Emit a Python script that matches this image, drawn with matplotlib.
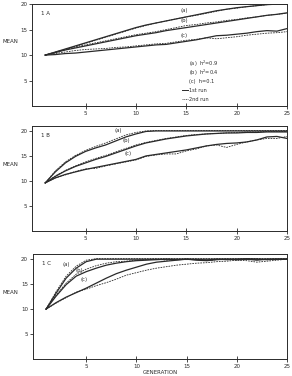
import matplotlib.pyplot as plt

generations = list(range(1, 26))

# panel 1A: (a), (b), (c) for 1st run (solid) and 2nd run (dashed)
a_run1 = [10, 10.6, 11.2, 11.8, 12.4, 13.0, 13.6, 14.2, 14.8, 15.4, 15.9, 16.3, 16.7,
          17.1, 17.5, 17.9, 18.3, 18.7, 19.0, 19.3, 19.5, 19.7, 19.9, 20.0, 20.0]
a_run2 = [10, 10.5, 11.1, 11.7, 12.3, 12.9, 13.5, 14.1, 14.7, 15.3, 15.8, 16.3, 16.7,
          17.1, 17.5, 17.8, 18.2, 18.6, 19.0, 19.2, 19.5, 19.7, 19.9, 20.0, 20.0]
b_run1 = [10, 10.5, 11.0, 11.4, 11.8, 12.2, 12.6, 13.0, 13.4, 13.8, 14.1, 14.4, 14.8,
          15.1, 15.4, 15.7, 16.0, 16.3, 16.6, 16.9, 17.2, 17.5, 17.8, 18.0, 18.3]
b_run2 = [10, 10.6, 11.1, 11.6, 12.0, 12.4, 12.8, 13.2, 13.6, 14.0, 14.3, 14.6, 15.0,
          15.4, 15.8, 16.0, 16.3, 16.5, 16.8, 17.0, 17.3, 17.5, 17.8, 18.0, 18.2]
c_run1 = [10, 10.1, 10.3, 10.4, 10.6, 10.8, 11.0, 11.2, 11.4, 11.6, 11.8, 12.0, 12.1,
          12.4, 12.7, 13.0, 13.4, 13.8, 13.9, 14.1, 14.3, 14.6, 14.8, 14.7, 15.2]
c_run2 = [10, 10.3, 10.6, 10.9, 11.1, 11.2, 11.3, 11.5, 11.6, 11.8, 12.0, 12.2, 12.3,
          12.6, 12.9, 13.1, 13.4, 13.2, 13.4, 13.6, 13.9, 14.1, 14.3, 14.4, 14.6]

# panel 1B
a_run1_b = [9.6, 11.8, 13.6, 14.9, 15.9, 16.6, 17.2, 18.0, 18.8, 19.4, 19.9, 20, 20,
            20, 20, 20, 20, 20, 20, 20, 20, 20, 20, 20, 20]
a_run2_b = [9.6, 12.0, 13.8, 15.1, 16.1, 16.9, 17.6, 18.4, 19.2, 19.7, 20.0, 20.1, 20.1,
            20.1, 20.1, 20.1, 20.1, 20.1, 20.1, 20.1, 20.1, 20.1, 20.1, 20.1, 20.1]
b_run1_b = [9.6, 10.9, 12.0, 12.9, 13.6, 14.3, 14.9, 15.6, 16.3, 17.0, 17.6, 18.0, 18.4,
            18.7, 19.0, 19.2, 19.4, 19.5, 19.6, 19.6, 19.7, 19.7, 19.8, 19.8, 19.8]
b_run2_b = [9.6, 11.0, 12.1, 13.0, 13.8, 14.5, 15.1, 15.8, 16.5, 17.2, 17.7, 18.1, 18.5,
            18.8, 19.1, 19.3, 19.4, 19.5, 19.6, 19.7, 19.8, 19.8, 19.9, 19.9, 19.9]
c_run1_b = [9.6, 10.6, 11.3, 11.8, 12.3, 12.7, 13.1, 13.5, 13.9, 14.3, 15.0, 15.3, 15.6,
            15.9, 16.2, 16.6, 17.0, 17.3, 17.5, 17.6, 17.8, 18.2, 18.8, 18.9, 18.5]
c_run2_b = [9.6, 10.6, 11.2, 11.9, 12.4, 12.5, 13.0, 13.4, 13.8, 14.2, 14.9, 15.2, 15.4,
            15.4, 16.0, 16.4, 17.0, 17.2, 16.7, 17.3, 17.8, 18.2, 18.5, 18.5, 18.9]

# panel 1C
a_run1_c = [10, 13.2, 16.2, 18.2, 19.5, 20, 20, 20, 20, 20, 20, 20, 20,
            20, 20, 20, 20, 20, 20, 20, 20, 20, 20, 20, 20]
a_run2_c = [10, 13.5, 16.6, 18.6, 19.8, 20.1, 20.1, 20.1, 20.1, 20.1, 20.1, 20.1, 20.1,
            20.1, 20.1, 20.1, 20.1, 20.1, 20.1, 20.1, 20.1, 20.1, 20.1, 20.1, 20.1]
b_run1_c = [10, 12.6, 14.9, 16.6, 17.5, 18.2, 18.8, 19.2, 19.5, 19.7, 19.8, 19.9, 20.0,
            19.9, 20.0, 19.9, 19.8, 20.0, 19.9, 20.0, 20.1, 20.0, 19.9, 20.0, 20.0]
b_run2_c = [10, 12.8, 15.2, 17.0, 18.0, 18.7, 19.2, 19.5, 19.6, 19.8, 19.9, 20.0, 19.8,
            20.0, 19.9, 20.0, 19.7, 19.9, 20.0, 19.8, 20.0, 20.1, 19.9, 20.0, 20.0]
c_run1_c = [10, 11.3, 12.4, 13.3, 14.2, 15.2, 16.2, 17.1, 17.8, 18.4, 19.0, 19.4, 19.6,
            19.8, 20.0, 19.8, 19.7, 19.9, 20.0, 19.9, 20.0, 19.8, 20.0, 20.0, 20.0]
c_run2_c = [10, 11.2, 12.3, 13.4, 14.0, 14.7, 15.3, 16.0, 16.8, 17.3, 17.8, 18.2, 18.5,
            18.8, 19.0, 19.2, 19.3, 19.5, 19.6, 19.8, 19.7, 19.4, 19.6, 19.8, 20.0]

panels = [
    ("1 A", (0, 20), [(a_run1, a_run2), (b_run1, b_run2), (c_run1, c_run2)],
     [(14.4, 18.5), (14.4, 16.4), (14.4, 13.5)]),
    ("1 B", (0, 21), [(a_run1_b, a_run2_b), (b_run1_b, b_run2_b), (c_run1_b, c_run2_b)],
     [(7.9, 19.7), (8.7, 17.7), (8.9, 15.1)]),
    ("1 C", (0, 21), [(a_run1_c, a_run2_c), (b_run1_c, b_run2_c), (c_run1_c, c_run2_c)],
     [(2.6, 18.7), (3.9, 17.5), (4.4, 15.6)]),
]
curve_names = ["(a)", "(b)", "(c)"]
legend_lines = ["(a)  h$^2$=0.9", "(b)  h$^2$=0.4", "(c)  h=0.1"]

ink = "#2a2a2a"
plt.rcParams["font.family"] = "DejaVu Sans"
fig = plt.figure(figsize=(2.92, 3.76), dpi=100)

boxes = [(0.110, 0.718, 0.873, 0.271),
         (0.110, 0.386, 0.873, 0.279),
         (0.113, 0.045, 0.870, 0.279)]

for (title, ylim, pairs, label_pos), box in zip(panels, boxes):
    ax = fig.add_axes(box)
    for (run1, run2), name, (lx, ly) in zip(pairs, curve_names, label_pos):
        ax.plot(generations, run1, color=ink, lw=0.9, solid_joinstyle="round")
        ax.plot(generations, run2, color=ink, lw=0.6, ls=(0, (2, 1.2)))
        ax.text(lx, ly, name, fontsize=3.8, color=ink)
    ax.set_xlim(-0.3, 25)
    ax.set_ylim(*ylim)
    ax.set_xticks([5, 10, 15, 20, 25])
    ax.set_yticks([5, 10, 15, 20])
    ax.tick_params(axis="x", direction="inout", length=4, width=0.6, labelsize=4,
                   colors=ink, pad=1.5)
    ax.tick_params(axis="y", direction="out", length=2, width=0.6, labelsize=4,
                   colors=ink, pad=1.5)
    for s in ax.spines.values():
        s.set_linewidth(0.7)
        s.set_color(ink)
    ax.text(0.6, ylim[1] - 2.2, title, fontsize=4, color=ink)
    fig.text(0.01, box[1] + box[3] * 0.62, "MEAN", fontsize=4, color=ink)

# legend of panel 1A
ax_a = fig.axes[0]
for i, txt in enumerate(legend_lines):
    ax_a.text(15.3, 8.3 - 1.75 * i, txt, fontsize=3.6, color=ink, va="center")
ax_a.plot([14.6, 15.2], [3.05, 3.05], color=ink, lw=0.7)
ax_a.text(15.3, 3.05, "1st run", fontsize=3.6, color=ink, va="center")
ax_a.plot([14.6, 15.2], [1.35, 1.35], color=ink, lw=0.5, ls=(0, (1.5, 1)))
ax_a.text(15.3, 1.35, "2nd run", fontsize=3.6, color=ink, va="center")

fig.text(0.55, 0.006, "GENERATION", fontsize=4, color=ink, ha="center")
fig.savefig("out.png", dpi=100)
